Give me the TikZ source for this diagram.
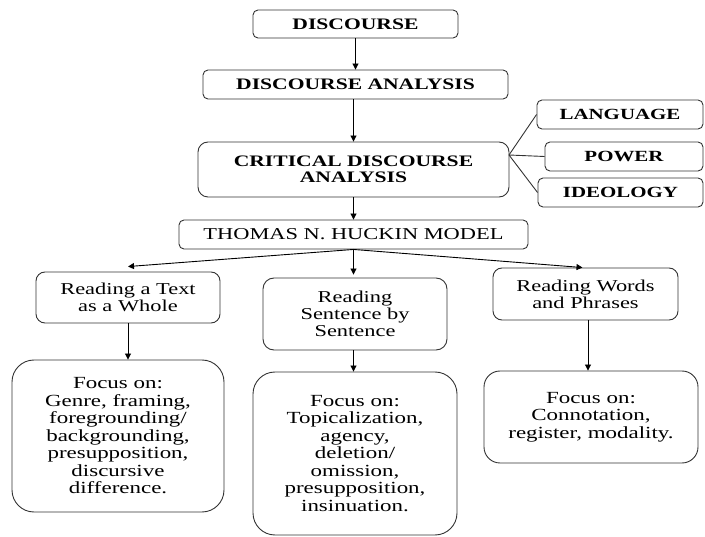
\documentclass[tikz,border=0pt]{standalone}
\usepackage{fontspec}
\setmainfont{Liberation Serif}[FakeStretch=1.35]
\usetikzlibrary{arrows.meta}
\tikzset{
  box/.style={draw=black!80, line width=0.9pt, inner sep=0pt, align=center},
  capbox/.style={box, rounded corners=5pt, font=\bfseries\fontsize{16}{16}\selectfont},
  sidebox/.style={box, rounded corners=5pt, font=\bfseries\fontsize{15.5}{16}\selectfont},
  regbox/.style={box, font=\fontsize{16.6}{17}\selectfont},
  focusbox/.style={box, font=\fontsize{17}{17.5}\selectfont},
  arr/.style={-{Triangle[length=6pt,width=6pt]}, line width=0.9pt, black},
  link/.style={line width=0.9pt, black!80}
}
\begin{document}
\begin{tikzpicture}[x=1pt,y=-1pt]
\useasboundingbox (0,0) rectangle (705,537);
% top chain
\node[capbox, minimum width=205pt, minimum height=28pt] (d1) at (355.5,24) {DISCOURSE};
\node[capbox, minimum width=305pt, minimum height=29pt] (d2) at (355.5,84.5) {DISCOURSE ANALYSIS};
\node[capbox, rounded corners=10pt, minimum width=311pt, minimum height=55pt] (cda) at (353.5,169.5) {CRITICAL DISCOURSE\\ANALYSIS};
% side boxes
\node[sidebox, minimum width=166pt, minimum height=29pt] (lang) at (620,114.5) {LANGUAGE};
\node[sidebox, minimum width=158pt, minimum height=29pt] (power) at (624,156.5) {POWER};
\node[sidebox, minimum width=165pt, minimum height=29pt] (ideo) at (620.5,192.5) {IDEOLOGY};
% model
\node[regbox, rounded corners=5pt, minimum width=349pt, minimum height=29pt] (thomas) at (353.5,234.5) {THOMAS N. HUCKIN MODEL};
% reading boxes
\node[regbox, rounded corners=9pt, minimum width=184pt, minimum height=51pt] (r1) at (128,297.5) {Reading a Text\\as a Whole};
\node[regbox, rounded corners=11pt, minimum width=184pt, minimum height=72pt] (r2) at (355,314) {Reading\\Sentence by\\Sentence};
\node[regbox, rounded corners=9pt, minimum width=185pt, minimum height=52pt] (r3) at (585.5,294) {Reading Words\\and Phrases};
% focus boxes
\node[focusbox, rounded corners=22pt, minimum width=212pt, minimum height=152pt] (f1) at (118,436) {Focus on:\\Genre, framing,\\foregrounding/\\backgrounding,\\presupposition,\\discursive\\difference.};
\node[focusbox, rounded corners=22pt, minimum width=204pt, minimum height=163pt] (f2) at (355,453.5) {Focus on:\\Topicalization,\\agency,\\deletion/\\omission,\\presupposition,\\insinuation.};
\node[focusbox, rounded corners=16pt, minimum width=214pt, minimum height=92pt] (f3) at (591,417) {Focus on:\\Connotation,\\register, modality.};
% connectors
\draw[arr] (d1.south) -- (d2.north);
\draw[arr] (cda.north |- d2.south) -- (cda.north);
\draw[arr] (cda.south) -- (thomas.north);
\coordinate (j) at (509,155);
\draw[link] (j) -- (lang.west);
\draw[link] (j) -- (power.west);
\draw[link] (j) -- (ideo.west);
\draw[arr] (thomas.south) -- ([yshift=5pt]r1.north);
\draw[arr] (thomas.south) -- ([yshift=3pt]thomas.south |- r2.north);
\draw[arr] (thomas.south) -- ([xshift=-3pt]r3.north);
\draw[arr] (r1.south) -- (r1.south |- f1.north);
\draw[arr] (r2.south -| thomas.south) -- (thomas.south |- f2.north);
\draw[arr] ([xshift=2.5pt]r3.south) -- ([xshift=2.5pt]r3.south |- f3.north);
\end{tikzpicture}
\end{document}
